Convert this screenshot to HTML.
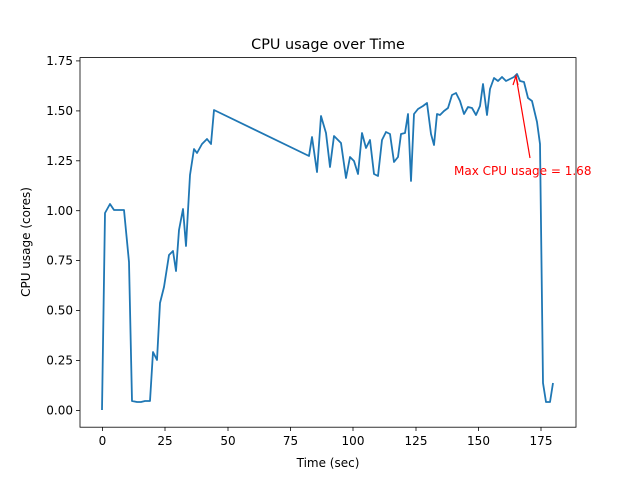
<!DOCTYPE html>
<html><head><style>body{margin:0;background:#fff}svg{display:block}text{font-family:"DejaVu Sans",sans-serif}</style></head><body>
<svg width="640" height="480" viewBox="0 0 640 480" xmlns="http://www.w3.org/2000/svg">
<rect width="640" height="480" fill="#fff"/>
<text x="328" y="49" font-size="14.4" text-anchor="middle">CPU usage over Time</text>
<polyline fill="none" stroke="#1f77b4" stroke-width="1.8" stroke-linejoin="round" points="102,410 105,213 110,204 114,210 124,210 129,262 132,401 137,402 141,402 145,401 150,401 153,352 157,360 160,303 164,287 169,255 173,251 176,271 179,230 183,209 186,246 190,175 194,149 197,153 202,144 207,139 211,144 214,110 309,156 312,137 317,172 321,116 326,133 330,167 334,136 341,143 346,178 350,157 354,161 358,174 362,133 366,148 370,140 374,174 378,176 382,140 386,132 390,134 394,162 398,157 401,134 405,133 408,114 411,181 414,114 418,109 423,106 427,103 431,134 434,145 437,114 440,115 444,111 448,108 452,95 456,93 460,101 464,114 468,107 472,108 476,115 480,106 483,84 487,115 490,89 494,78 498,81 502,77 506,81 510,79 514,77 517,74 520,81 524,82 528,98 532,101 537,122 540,144 543,383 546,402 550,402 553,383"/>
<g stroke="red" stroke-width="1.2" fill="none"><line x1="530" y1="158" x2="516" y2="76"/><polyline points="513,85 516,76 518,85"/></g>
<text x="454" y="175" font-size="12" fill="red">Max CPU usage = 1.68</text>
<rect x="80" y="57.6" width="496" height="369.6" fill="none" stroke="#000" stroke-width="0.8"/>
<g stroke="#000" stroke-width="0.8">
<line x1="102.5" y1="427" x2="102.5" y2="431"/><line x1="165" y1="427" x2="165" y2="431"/><line x1="228" y1="427" x2="228" y2="431"/><line x1="290.5" y1="427" x2="290.5" y2="431"/><line x1="353" y1="427" x2="353" y2="431"/><line x1="416" y1="427" x2="416" y2="431"/><line x1="478.5" y1="427" x2="478.5" y2="431"/><line x1="541" y1="427" x2="541" y2="431"/>
<line x1="76" y1="410.4" x2="80" y2="410.4"/><line x1="76" y1="360.5" x2="80" y2="360.5"/><line x1="76" y1="310.6" x2="80" y2="310.6"/><line x1="76" y1="260.6" x2="80" y2="260.6"/><line x1="76" y1="210.7" x2="80" y2="210.7"/><line x1="76" y1="160.8" x2="80" y2="160.8"/><line x1="76" y1="110.9" x2="80" y2="110.9"/><line x1="76" y1="60.9" x2="80" y2="60.9"/>
</g>
<g font-size="12" text-anchor="middle"><text x="102.5" y="445">0</text><text x="165" y="445">25</text><text x="228" y="445">50</text><text x="290.5" y="445">75</text><text x="353" y="445">100</text><text x="416" y="445">125</text><text x="478.5" y="445">150</text><text x="541" y="445">175</text></g>
<g font-size="12" text-anchor="end"><text x="73" y="414.5">0.00</text><text x="73" y="364.6">0.25</text><text x="73" y="314.7">0.50</text><text x="73" y="264.7">0.75</text><text x="73" y="214.8">1.00</text><text x="73" y="164.9">1.25</text><text x="73" y="115">1.50</text><text x="73" y="65">1.75</text></g>
<text x="328" y="467" font-size="12" text-anchor="middle">Time (sec)</text>
<text transform="translate(30,242) rotate(-90)" font-size="12" text-anchor="middle">CPU usage (cores)</text>
</svg>
</body></html>
